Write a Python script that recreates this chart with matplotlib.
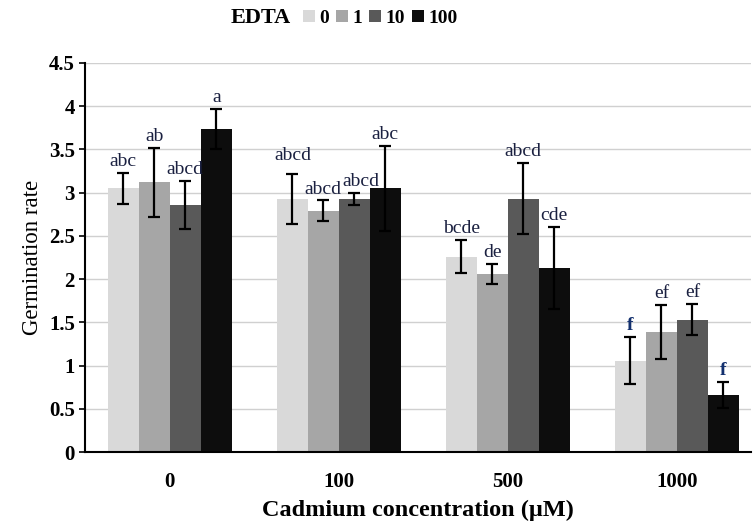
import numpy as np
import matplotlib.pyplot as plt

plt.rcParams['font.family'] = ['Liberation Serif', 'DejaVu Serif']

cadmium = ['0', '100', '500', '1000']
edta = ['0', '1', '10', '100']
rate = [
    [3.05, 3.12, 2.86, 3.74],
    [2.93, 2.79, 2.93, 3.05],
    [2.26, 2.06, 2.93, 2.13],
    [1.06, 1.39, 1.53, 0.66],
]
err = [
    [0.18, 0.40, 0.28, 0.23],
    [0.29, 0.12, 0.07, 0.49],
    [0.19, 0.12, 0.41, 0.47],
    [0.27, 0.31, 0.18, 0.15],
]
letters = [
    ['abc', 'ab', 'abcd', 'a'],
    ['abcd', 'abcd', 'abcd', 'abc'],
    ['bcde', 'de', 'abcd', 'cde'],
    ['f', 'ef', 'ef', 'f'],
]
colors = ['#d9d9d9', '#a6a6a6', '#595959', '#0d0d0d']

# a few letter labels sit off-centre in the original, nudge them (points)
nudge = {(1, 0): (0, 7), (1, 2): (5, 2)}

rate = np.array(rate)
err = np.array(err)
x = np.arange(len(cadmium))
w = 0.183

fig = plt.figure(figsize=(7.55, 5.24), dpi=100)
ax = fig.add_axes([0.113, 0.137, 0.882, 0.743])

for j in range(len(edta)):
    pos = x + (j - 1.5) * w
    ax.bar(pos, rate[:, j], w, color=colors[j], label=edta[j], zorder=2)
    ax.errorbar(pos, rate[:, j], yerr=err[:, j], fmt='none', ecolor='black',
                elinewidth=1.6, capsize=4, capthick=1.6, zorder=3)
    for i in range(len(cadmium)):
        lab = letters[i][j]
        bold = lab == 'f'
        ax.annotate(lab, (pos[i], rate[i, j] + err[i, j]),
                    xytext=nudge.get((i, j), (0, 2)), textcoords='offset points',
                    ha='center', va='bottom', fontsize=14,
                    fontweight='bold' if bold else 'normal',
                    color='#13306e' if bold else '#1a2040')

ax.set_ylim(0, 4.5)
ax.set_yticks(np.arange(0, 4.51, 0.5))
ax.set_yticklabels(['0', '0.5', '1', '1.5', '2', '2.5', '3', '3.5', '4', '4.5'],
                   fontweight='bold', fontsize=15)
ax.set_xlim(-0.5, 3.44)
ax.set_xticks(x)
ax.set_xticklabels(cadmium, fontweight='bold', fontsize=15)
ax.tick_params(axis='x', length=0, pad=14)
ax.tick_params(axis='y', length=4, width=1.2, direction='out')
ax.yaxis.grid(True, color='#d0d0d0', linewidth=1, zorder=0)
ax.set_axisbelow(True)
for s in ['top', 'right']:
    ax.spines[s].set_visible(False)
ax.spines['left'].set_linewidth(1.5)
ax.spines['bottom'].set_linewidth(1.5)

ax.set_ylabel('Germination rate', fontsize=16.5)
ax.set_xlabel('Cadmium concentration (\u03bcM)', fontsize=17.5, fontweight='bold', labelpad=6)

fig.text(0.305, 0.965, 'EDTA', fontsize=16, fontweight='bold', ha='left', va='center')
leg = fig.legend(loc='center left', bbox_to_anchor=(0.378, 0.965), ncol=4, frameon=False,
                 handlelength=0.6, handleheight=0.6, handletextpad=0.25, columnspacing=0.35,
                 prop={'weight': 'bold', 'size': 14})

fig.savefig('out.png', dpi=100)
